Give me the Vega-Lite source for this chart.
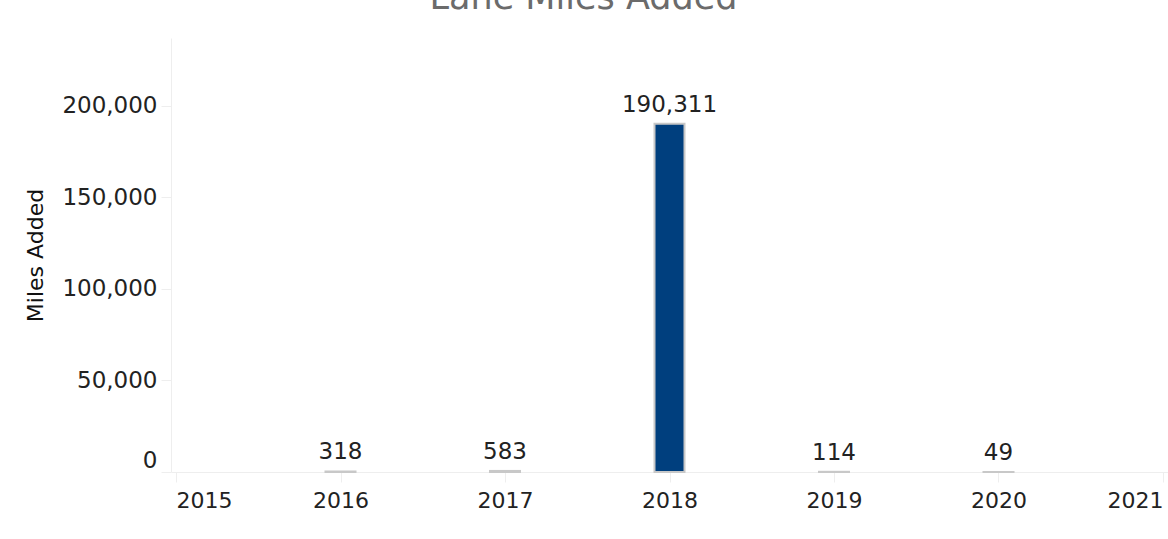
{
  "$schema": "https://vega.github.io/schema/vega-lite/v6.json",
  "autosize": {"type": "none"},
  "padding": {"left": 171, "top": 38, "right": 0, "bottom": 67},
  "width": 997,
  "height": 434,
  "background": "white",
  "config": {"view": {"stroke": null}, "font": "DejaVu Sans"},
  "title": {
    "text": "Lane Miles Added",
    "font": "DejaVu Sans",
    "fontSize": 35,
    "fontWeight": "normal",
    "color": "#6b6b6b",
    "anchor": "middle",
    "frame": "group",
    "dx": -86,
    "dy": 6,
    "baseline": "alphabetic",
    "offset": 0
  },
  "data": {
    "values": [
      {"year": 2016, "miles": 318},
      {"year": 2017, "miles": 583},
      {"year": 2018, "miles": 190311},
      {"year": 2019, "miles": 114},
      {"year": 2020, "miles": 49}
    ]
  },
  "encoding": {
    "x": {
      "field": "year",
      "type": "quantitative",
      "scale": {"domain": [2015, 2021], "nice": false, "zero": false},
      "axis": {
        "title": null,
        "values": [2015, 2016, 2017, 2018, 2019, 2020, 2021],
        "format": "d",
        "grid": false,
        "labelFontSize": 22,
        "labelColor": "#222",
        "labelPadding": 8,
        "labelAlign": {"expr": "datum.value == 2015 ? 'left' : (datum.value == 2021 ? 'right' : 'center')"},
        "tickSize": 10,
        "tickColor": "#eeeeee",
        "domainColor": "#eeeeee"
      }
    },
    "y": {
      "field": "miles",
      "type": "quantitative",
      "scale": {"domain": [0, 237100], "nice": false},
      "axis": {
        "title": "Miles Added",
        "titleFontSize": 22,
        "titleFontWeight": "normal",
        "titleColor": "#111",
        "titlePadding": 14,
        "values": [0, 50000, 100000, 150000, 200000],
        "format": ",.0f",
        "grid": false,
        "labelFontSize": 23,
        "labelColor": "#222",
        "labelPadding": 4,
        "labelBaseline": {"expr": "datum.value == 0 ? 'bottom' : 'middle'"},
        "tickSize": 10,
        "tickColor": "#eeeeee",
        "domainColor": "#eeeeee"
      }
    }
  },
  "layer": [
    {
      "mark": {"type": "bar", "size": 30, "fill": "#003f7e", "stroke": "#c8c8c8", "strokeWidth": 2}
    },
    {
      "mark": {"type": "text", "baseline": "bottom", "dy": -7, "fontSize": 23, "color": "#222"},
      "encoding": {"text": {"field": "miles", "type": "quantitative", "format": ","}}
    }
  ]
}
